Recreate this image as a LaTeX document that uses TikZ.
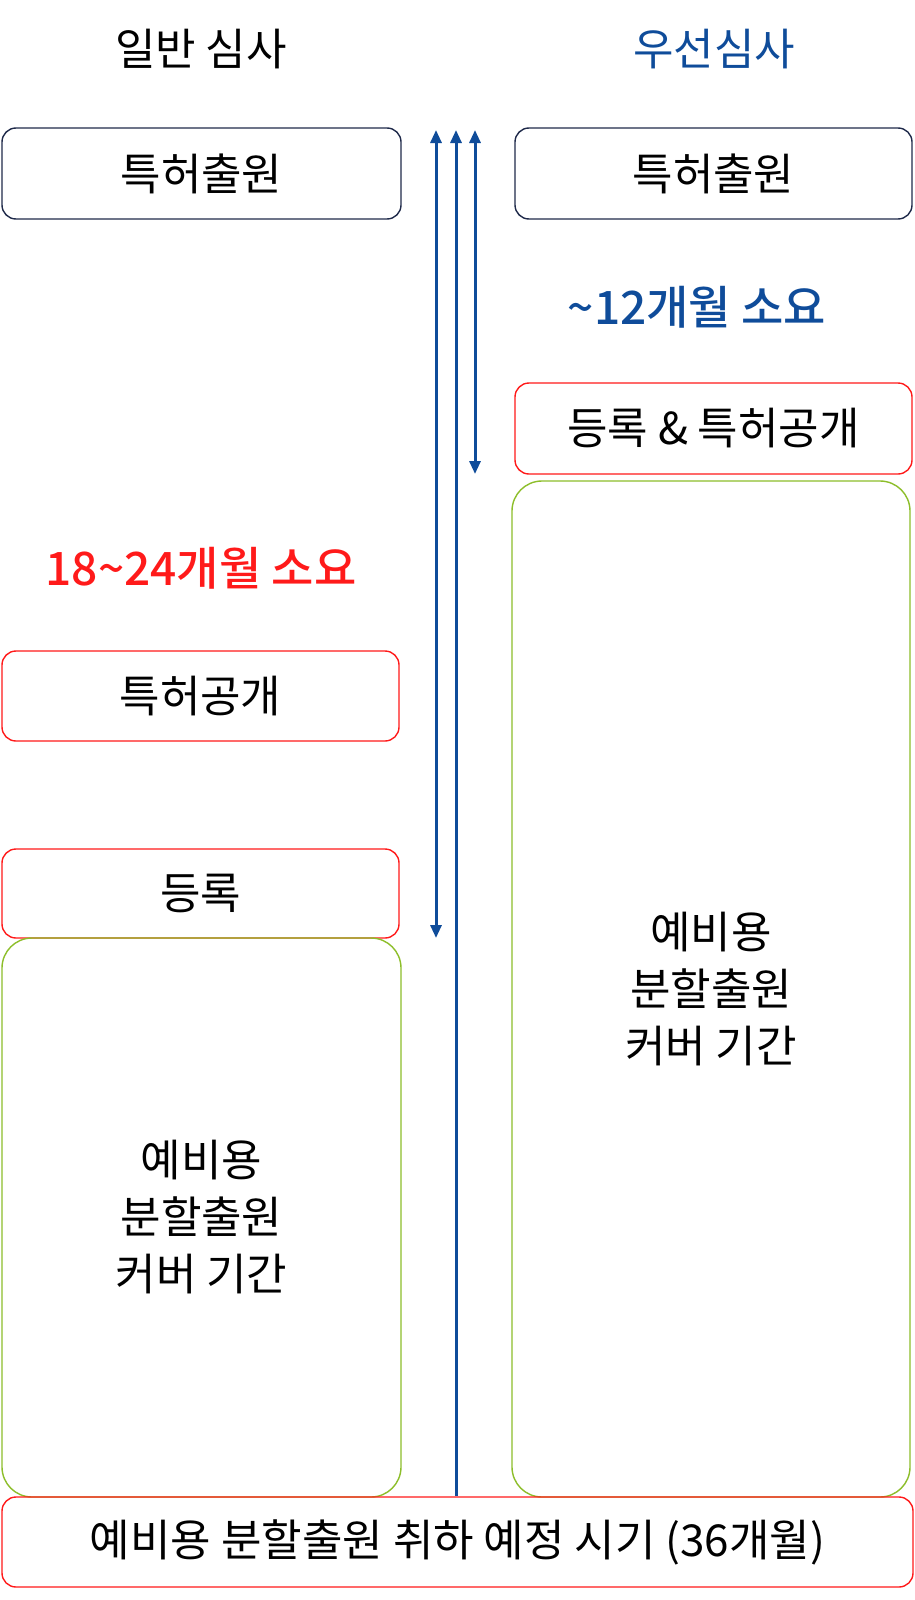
\documentclass[tikz,border=0pt]{standalone}
\usepackage{fontspec}
\setmainfont{Noto Sans CJK KR}
\newfontfamily\krmed{Noto Sans CJK KR Medium}
\usetikzlibrary{arrows.meta}
\definecolor{navy}{HTML}{1F2A4A}
\definecolor{dblue}{HTML}{0F4C9A}
\definecolor{lgreen}{HTML}{8DBE2A}
\definecolor{pred}{HTML}{FF1A1A}
\tikzset{
  box/.style={draw, line width=1.4pt, rounded corners=14pt, inner sep=0pt, align=center,
    font=\fontsize{44}{57}\selectfont},
  navybox/.style={box, draw=navy},
  redbox/.style={box, draw=pred},
  greenbox/.style={box, draw=lgreen, rounded corners=30pt},
  lbl/.style={inner sep=0pt, font=\fontsize{44}{50}\selectfont},
  boldlbl/.style={inner sep=0pt, font=\krmed\fontsize{46}{50}\selectfont},
  timearrow/.style={draw=dblue, line width=3pt, {Triangle[length=13pt,width=11pt]}-{Triangle[length=13pt,width=11pt]}},
  uparrow/.style={draw=dblue, line width=3pt, {Triangle[length=13pt,width=11pt]}-}
}
\begin{document}
\begin{tikzpicture}[x=1pt,y=-1pt]
\useasboundingbox[fill=white] (0,0) rectangle (915,1600);
% titles
\node[lbl] (t1) at (201,49) {일반 심사};
\node[lbl, text=dblue] (t2) at (714,49) {우선심사};
% left column
\node[navybox, minimum width=399pt, minimum height=91pt] (l1) at (201.5,173.5) {특허출원};
\node[boldlbl, text=pred] (l18) at (201,568) {18\char"007E 24개월 소요};
\node[redbox, minimum width=397pt, minimum height=90pt] (l2) at (200.5,696) {특허공개};
\node[redbox, minimum width=397pt, minimum height=89pt] (l3) at (200.5,893.5) {등록};
\node[greenbox, minimum width=399pt, minimum height=559pt] (l4) at (201.5,1217.5) {예비용\\분할출원\\커버 기간};
% right column
\node[navybox, minimum width=397pt, minimum height=91pt] (r1) at (713.5,173.5) {특허출원};
\node[boldlbl, text=dblue] (r12) at (697,307) {\char"007E 12개월 소요};
\node[redbox, minimum width=397pt, minimum height=91pt] (r2) at (713.5,428.5) {등록 \& 특허공개};
\node[greenbox, minimum width=398pt, minimum height=1016pt] (r3) at (711,989) {예비용\\분할출원\\커버 기간};
% bottom
\node[redbox, minimum width=911pt, minimum height=90pt] (b) at (457.5,1542) {예비용 분할출원 취하 예정 시기 (36개월)};
% arrows
\coordinate (aLt) at (436,130);
\coordinate (aLb) at (436,938);
\coordinate (aMt) at (456,130);
\coordinate (aRt) at (475,130);
\coordinate (aRb) at (475,474);
\draw[timearrow] (aLt) -- (aLb);
\draw[uparrow] (aMt) -- (aMt |- b.north);
\draw[timearrow] (aRt) -- (aRb);
\end{tikzpicture}
\end{document}
